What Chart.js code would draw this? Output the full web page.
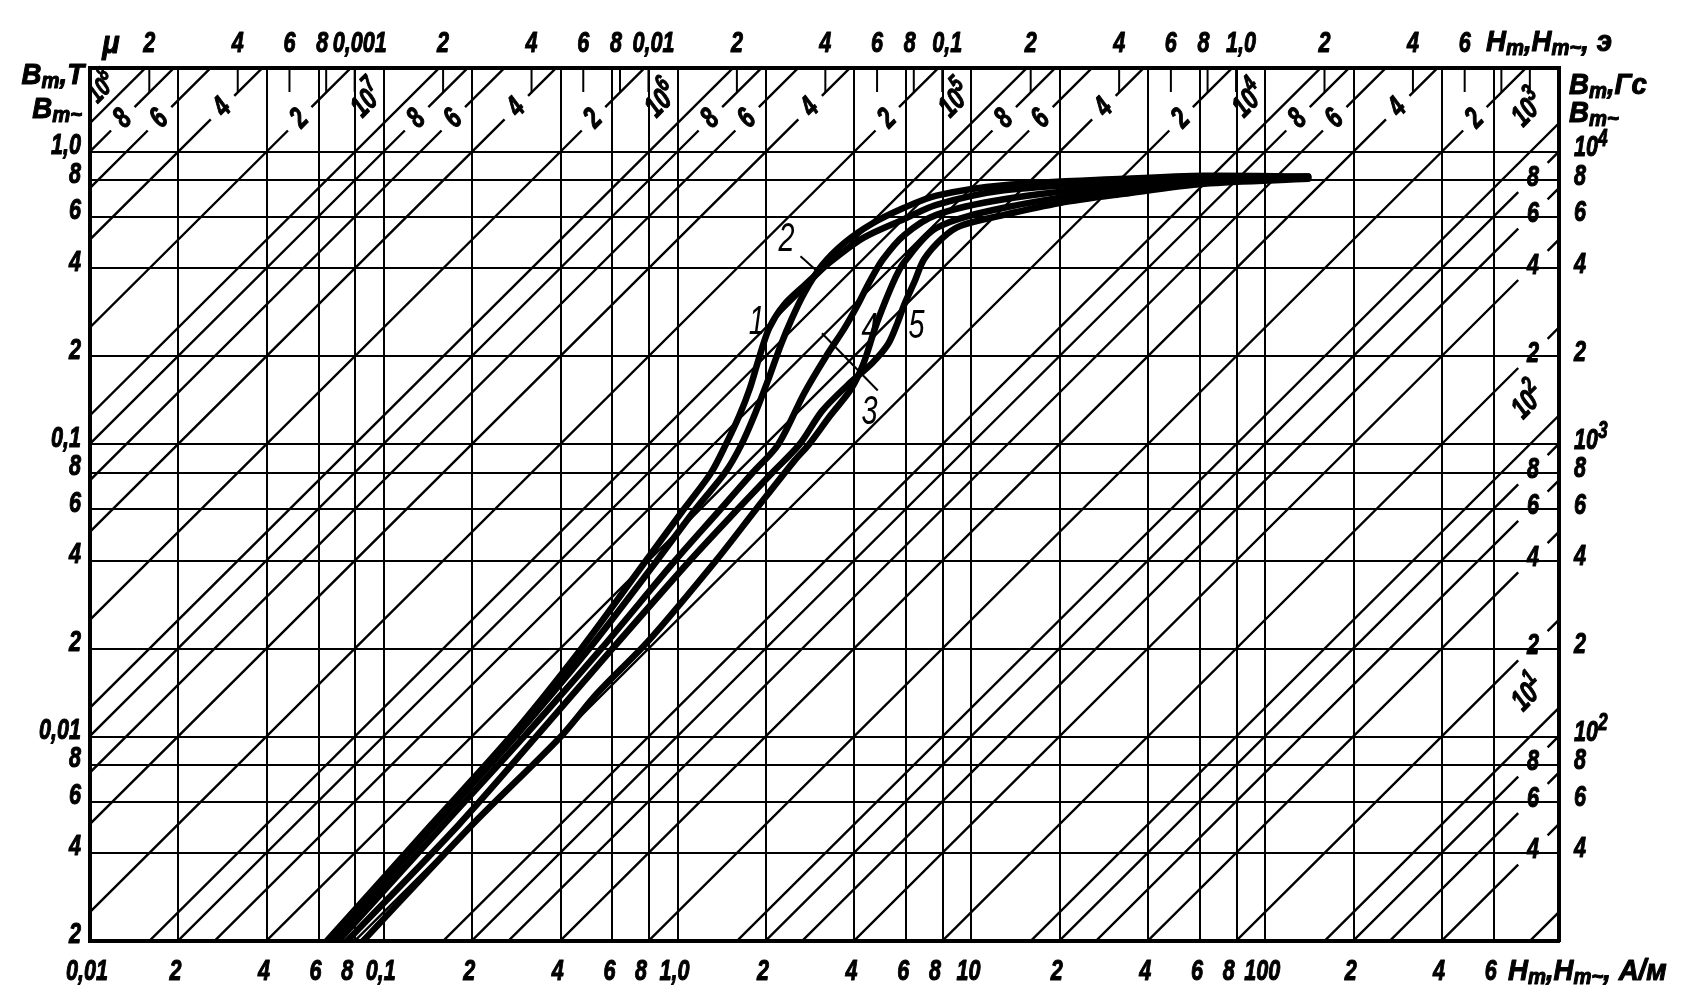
<!DOCTYPE html>
<html><head><meta charset="utf-8">
<script src="https://cdn.jsdelivr.net/npm/chart.js@4.4.1/dist/chart.umd.min.js"></script>
<style>html,body{margin:0;padding:0;background:#fff}canvas{display:block}</style>
</head><body>
<canvas id="c" width="1699" height="1004"></canvas>
<script>
// ---------- data (H in A/m, B in T) ----------
const curve1H = [0.064,0.145,0.27,0.47,0.78,1.05,1.3,1.46,1.62,1.76,1.9,2.05,2.3,2.7,3.3,4.3,5.9,7.6,12.9,33,62,140];
const curve1B = [0.002,0.005,0.01,0.02,0.04,0.06,0.08,0.1,0.125,0.155,0.2,0.25,0.3,0.35,0.42,0.51,0.59,0.66,0.74,0.79,0.815,0.825];
const curve2H = [0.066,0.15,0.28,0.5,0.85,1.15,1.45,1.65,1.85,2.05,2.25,2.45,2.7,3.1,3.7,4.6,5.9,7.6,12.9,33,62,140];
const curve2B = [0.002,0.005,0.01,0.02,0.04,0.06,0.08,0.1,0.13,0.17,0.22,0.27,0.33,0.41,0.49,0.57,0.645,0.71,0.77,0.81,0.83,0.825];
const curve3H = [0.085,0.2,0.4,0.53,0.8,1.35,1.85,2.5,2.8,3.3,3.9,4.3,4.7,5.1,5.5,5.9,7.6,12.9,33,62,140];
const curve3B = [0.002,0.005,0.01,0.014,0.0214,0.04,0.06,0.088,0.1,0.125,0.155,0.19,0.25,0.31,0.37,0.42,0.55,0.645,0.75,0.79,0.815];
const curve4H = [0.07,0.16,0.3,0.55,0.98,1.4,1.8,2.2,2.7,3.2,3.7,4.1,4.5,5.0,5.9,7.6,12.9,33,62,140];
const curve4B = [0.002,0.005,0.01,0.02,0.04,0.06,0.08,0.1,0.15,0.2,0.25,0.3,0.36,0.43,0.52,0.61,0.69,0.77,0.80,0.82];
const curve5H = [0.075,0.18,0.33,0.6,1.1,1.6,2.1,2.6,3.1,3.8,4.6,5.2,5.6,5.9,6.4,6.9,8.0,9.2,12.9,20,33,62,140];
const curve5B = [0.002,0.005,0.01,0.02,0.04,0.06,0.08,0.1,0.13,0.16,0.19,0.22,0.26,0.3,0.36,0.43,0.51,0.56,0.61,0.67,0.72,0.78,0.81];
const curveNames = ['1','2','3','4','5'];

// permeability (mu) reference lines
const muValues = [2,4,6,8,10,20,40,60,80,100,200,400,600,800,1e3,2e3,4e3,6e3,8e3,1e4,2e4,4e4,6e4,8e4,1e5,2e5,4e5,6e5,8e5,1e6,2e6,4e6,6e6,8e6,1e7,2e7,4e7,6e7,8e7,1e8];

// axis ticks
const xTicks = [0.01,0.02,0.04,0.06,0.08,0.1,0.2,0.4,0.6,0.8,1,2,4,6,8,10,20,40,60,80,100,200,400,600];
const xTickLabels = ['0,01','2','4','6','8','0,1','2','4','6','8','1,0','2','4','6','8','10','2','4','6','8','100','2','4','6'];
const yTicks = [0.002,0.004,0.006,0.008,0.01,0.02,0.04,0.06,0.08,0.1,0.2,0.4,0.6,0.8,1];
const yTickLabels = ['2','4','6','8','0,01','2','4','6','8','0,1','2','4','6','8','1,0'];
const oeTicks = [2e-4,4e-4,6e-4,8e-4,1e-3,2e-3,4e-3,6e-3,8e-3,0.01,0.02,0.04,0.06,0.08,0.1,0.2,0.4,0.6,0.8,1,2,4,6,8,10];
const oeTickLabels = ['2','4','6','8','0,001','2','4','6','8','0,01','2','4','6','8','0,1','2','4','6','8','1,0','2','4','6','',''];
const gsTicks = [40,60,80,100,200,400,600,800,1000,2000,4000,6000,8000,10000];
const gsTickLabels = [['4'],['6'],['8'],['10','2'],['2'],['4'],['6'],['8'],['10','3'],['2'],['4'],['6'],['8'],['10','4']];

// ---------- helpers ----------
const MU0 = 4e-7*Math.PI;
const OE = 1000/(4*Math.PI); // A/m per oersted
const FONT = "'Liberation Sans',Arial,sans-serif";
const COND = 0.72;
const fontStr = (sz, w) => `italic ${w || 'bold'} ${sz}px ${FONT}`;

function labelSpec(mu){
  const e = Math.floor(Math.log10(mu)+1e-9);
  const m = Math.round(mu/Math.pow(10,e));
  if (mu >= 2000) {
    if (m === 1) {
      if (mu >= 1e8) return {H: 1.65/(MU0*mu), parts: [['10','n'],[String(e),'sup']], rot: true, dx: -22, dy: 0, size: 26};
      return {H: 1.5/(MU0*mu), parts: [['10','n'],[String(e),'sup']], rot: true, dx: -38, dy: 0};
    }
    const B = m === 4 ? 1.42 : 1.3;
    return {H: B/(MU0*mu), parts: [[String(m),'n']], rot: true, gap: 0.04, dx: 0, dy: 0};
  }
  if (mu >= 4) {
    if (m === 1) return {H: 790, parts: [['10','n'],[String(e),'sup']], rot: true, dx: 0, dy: -43};
    return {H: 815, parts: [[String(m),'n']], rot: false, gap: 0.05, dx: 0, dy: 0};
  }
  return null;
}

function diagData(mu){
  const Hs = 0.004, He = 3000;
  const pts = [{x: Hs, y: MU0*mu*Hs}];
  const s = labelSpec(mu);
  if (s && s.gap) {
    const g = Math.pow(10, s.gap);
    pts.push({x: s.H/g, y: MU0*mu*s.H/g});
    pts.push({x: s.H, y: null});
    pts.push({x: s.H*g, y: MU0*mu*s.H*g});
  }
  pts.push({x: He, y: MU0*mu*He});
  return pts;
}

// rich text: parts = [[text, 'n'|'sub'|'sup']], horizontally condensed, slightly emboldened
function drawRich(ctx, parts, x, y, align, size, weight, supRaise, cond){
  const k0 = cond || COND;
  const segs = parts.map(([t,k]) => {
    const fs = k === 'n' ? size : k === 'sup' ? Math.round(size*0.8) : Math.round(size*0.72);
    ctx.font = fontStr(fs, weight);
    return {t, k, fs, w: ctx.measureText(t).width * k0};
  });
  const w = segs.reduce((a,s)=>a+s.w,0);
  let cx = align === 'right' ? x - w : align === 'center' ? x - w/2 : x;
  ctx.save();
  ctx.textAlign = 'left';
  ctx.textBaseline = 'middle';
  ctx.lineJoin = 'round';
  for (const s of segs) {
    ctx.font = fontStr(s.fs, weight);
    const dy = s.k === 'sub' ? size*0.2 : s.k === 'sup' ? -size*(supRaise || 0.38) : 0;
    ctx.save();
    ctx.translate(cx, y + dy);
    ctx.scale(k0, 1);
    ctx.fillText(s.t, 0, 0);
    if (weight !== 'normal') { ctx.lineWidth = 1.1; ctx.strokeText(s.t, 0, 0); }
    ctx.restore();
    cx += s.w;
  }
  ctx.restore();
}

const setTicks = list => axis => { axis.ticks = list.map(v => ({value: v})); };

// ---------- datasets ----------
const curves = [[curve1H,curve1B],[curve2H,curve2B],[curve3H,curve3B],[curve4H,curve4B],[curve5H,curve5B]];
const datasets = [];
curves.forEach(([H,B],i) => datasets.push({
  label: 'curve ' + curveNames[i],
  data: H.map((h,j) => ({x: h, y: B[j]})),
  showLine: true, borderColor: '#000', borderWidth: 6.5, pointRadius: 0,
  tension: 0.3, clip: 0, borderCapStyle: 'round', borderJoinStyle: 'round'
}));
muValues.forEach(mu => datasets.push({
  label: 'mu ' + mu,
  data: diagData(mu),
  showLine: true, borderColor: '#000', borderWidth: 2.4, pointRadius: 0,
  tension: 0, spanGaps: false, clip: 0
}));

// ---------- plugins ----------
const TS = 30; // tick label font size
const TC = 0.92; // title condensing
const isDecade = t => t.indexOf(',') >= 0 || t === '10' || t === '100';
const decor = {
  id: 'decor',
  beforeDraw(chart){
    const c = chart.ctx; c.save(); c.fillStyle = '#fff'; c.fillRect(0,0,chart.width,chart.height); c.restore();
  },
  beforeDatasetsDraw(chart){
    const c = chart.ctx, a = chart.chartArea, x2 = chart.scales.x2;
    c.save(); c.strokeStyle = '#000'; c.lineWidth = 2;
    oeTicks.forEach(v => {
      const px = x2.getPixelForValue(v);
      if (px < a.left+2 || px > a.right-2) return;
      c.beginPath(); c.moveTo(px, a.top); c.lineTo(px, a.top + 24); c.stroke();
    });
    c.restore();
  },
  afterDraw(chart){
    const c = chart.ctx, xs = chart.scales.x, x2 = chart.scales.x2, ys = chart.scales.y, y2 = chart.scales.y2, a = chart.chartArea;
    c.save();
    c.fillStyle = '#000'; c.strokeStyle = '#000';
    // tick labels
    xTicks.forEach((v,i) => {
      const t = xTickLabels[i];
      const off = t === '8' ? -8 : -3;
      drawRich(c, [[t,'n']], xs.getPixelForValue(v) + off, a.bottom + 31, 'center', TS);
    });
    oeTicks.forEach((v,i) => {
      const t = oeTickLabels[i]; if (!t) return;
      const off = isDecade(t) ? 5 : t === '8' ? -4 : 0;
      drawRich(c, [[t,'n']], x2.getPixelForValue(v) + off, a.top - 24, 'center', TS);
    });
    yTicks.forEach((v,i) => drawRich(c, [[yTickLabels[i],'n']], a.left - 9, ys.getPixelForValue(v) - 6, 'right', TS));
    gsTicks.forEach((v,i) => {
      const p = gsTickLabels[i];
      drawRich(c, p.length === 2 ? [[p[0],'n'],[p[1],'sup']] : [[p[0],'n']], a.right + 15, y2.getPixelForValue(v) - 4, 'left', TS, 'bold', 0.3);
    });
    // mu line labels
    muValues.forEach(mu => {
      const s = labelSpec(mu); if (!s) return;
      const px = xs.getPixelForValue(s.H) + s.dx, py = ys.getPixelForValue(MU0*mu*s.H) + s.dy;
      c.save(); c.translate(px, py);
      if (s.rot) c.rotate(-Math.PI/4);
      drawRich(c, s.parts, 0, 0, 'center', s.size || 30);
      c.restore();
    });
    // titles
    drawRich(c, [['μ','n']], 111, 44, 'center', 32, 'bold', 0, 0.9);
    drawRich(c, [['B','n'],['m','sub'],[',T','n']], 84, 76, 'right', TS, 'bold', 0, TC);
    drawRich(c, [['B','n'],['m~','sub']], 82, 110, 'right', TS, 'bold', 0, TC);
    drawRich(c, [['B','n'],['m','sub'],[',Гс','n']], a.right + 10, 86, 'left', TS, 'bold', 0, TC);
    drawRich(c, [['B','n'],['m~','sub']], a.right + 10, 114, 'left', TS, 'bold', 0, TC);
    drawRich(c, [['H','n'],['m','sub'],[',H','n'],['m~','sub'],[', э','n']], 1486, 43, 'left', TS, 'bold', 0, TC);
    drawRich(c, [['H','n'],['m','sub'],[',H','n'],['m~','sub'],[', A/м','n']], 1508, 972, 'left', TS, 'bold', 0, TC);
    c.restore();
  }
};

// curve number labels with leader lines (positions in data units)
const curveLabelPos = [{t:'1', H:1.86, B:0.26}, {t:'2', H:2.35, B:0.5}, {t:'3', H:4.5, B:0.128}, {t:'4', H:4.5, B:0.246}, {t:'5', H:6.5, B:0.252}];
const curveLabels = {
  id: 'curveLabels',
  afterDraw(chart){
    const c = chart.ctx, xs = chart.scales.x, ys = chart.scales.y;
    c.save(); c.fillStyle = '#000'; c.strokeStyle = '#000'; c.lineWidth = 2;
    curveLabelPos.forEach(l => {
      drawRich(c, [[l.t,'n']], xs.getPixelForValue(l.H), ys.getPixelForValue(l.B), 'center', 40, 'normal');
    });
    const seg = (h1,b1,h2,b2) => { c.beginPath(); c.moveTo(xs.getPixelForValue(h1), ys.getPixelForValue(b1)); c.lineTo(xs.getPixelForValue(h2), ys.getPixelForValue(b2)); c.stroke(); };
    seg(2.62, 0.44, 3.0, 0.39);
    seg(3.1, 0.24, 4.8, 0.153);
    c.restore();
  }
};

const hiddenTicks = {display: false};
new Chart(document.getElementById('c'), {
  type: 'scatter',
  data: {datasets},
  options: {
    responsive: false, animation: false, events: [],
    layout: {padding: 0},
    plugins: {legend: {display: false}, tooltip: {enabled: false}},
    scales: {
      x: {
        type: 'logarithmic', position: 'bottom', min: 0.01, max: 1000,
        afterBuildTicks: setTicks(xTicks), afterFit: s => { s.height = 63; },
        grid: {color: '#000', lineWidth: 2, drawTicks: false},
        border: {display: true, color: '#000', width: 4},
        ticks: hiddenTicks
      },
      x2: {
        type: 'logarithmic', position: 'top', min: 0.01/OE, max: 1000/OE,
        afterBuildTicks: setTicks(oeTicks), afterFit: s => { s.height = 68; },
        grid: {drawOnChartArea: false, drawTicks: false},
        border: {display: true, color: '#000', width: 4},
        ticks: hiddenTicks
      },
      y: {
        type: 'logarithmic', position: 'left', min: 0.002, max: 1.94,
        afterBuildTicks: setTicks(yTicks), afterFit: s => { s.width = 90; },
        grid: {color: '#000', lineWidth: 2, drawTicks: false},
        border: {display: true, color: '#000', width: 4},
        ticks: hiddenTicks
      },
      y2: {
        type: 'logarithmic', position: 'right', min: 20, max: 19400,
        afterBuildTicks: setTicks(gsTicks), afterFit: s => { s.width = 140; },
        grid: {drawOnChartArea: false, drawTicks: false},
        border: {display: true, color: '#000', width: 4},
        ticks: hiddenTicks
      }
    }
  },
  plugins: [decor, curveLabels]
});
</script>
</body></html>
